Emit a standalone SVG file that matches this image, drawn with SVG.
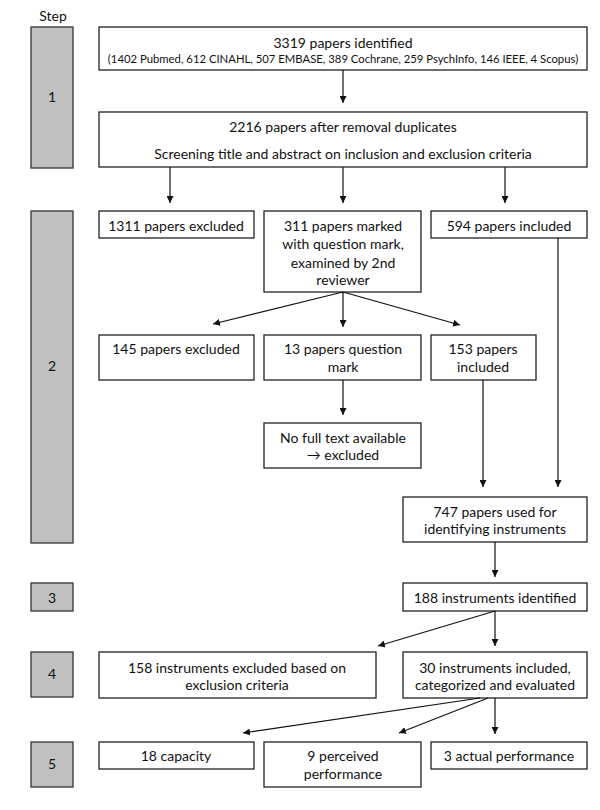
<svg xmlns="http://www.w3.org/2000/svg" width="600" height="810" viewBox="0 0 600 810">
<style>
.box{fill:#fff;stroke:#222;stroke-width:1.3}
.step{fill:#c0c0c0;stroke:#333;stroke-width:1.3}
text{font-family:Lato,"Liberation Sans",sans-serif;font-size:14px;fill:#111;text-anchor:middle;dominant-baseline:central}
.small{font-size:11.3px}
.con{stroke:#111;stroke-width:1.2;fill:none;marker-end:url(#ah)}
</style>
<defs>
<marker id="ah" viewBox="0 0 10 10" refX="10" refY="5" markerWidth="7" markerHeight="7" markerUnits="userSpaceOnUse" orient="auto"><path d="M0,0 L10,5 L0,10 z" fill="#111"/></marker>
</defs>
<rect width="600" height="810" fill="#fff"/>
<text x="53" y="15">Step</text>
<g id="step1"><rect class="step" x="31" y="27" width="42" height="141"/><text x="52" y="96">1</text></g>
<g id="step2"><rect class="step" x="31" y="211" width="42" height="332"/><text x="52" y="365">2</text></g>
<g id="step3"><rect class="step" x="31" y="583" width="42" height="28"/><text x="52" y="597">3</text></g>
<g id="step4"><rect class="step" x="31" y="652" width="42" height="45"/><text x="52" y="673">4</text></g>
<g id="step5"><rect class="step" x="31" y="742" width="42" height="45"/><text x="52" y="763">5</text></g>

<g id="identified"><rect class="box" x="99" y="27" width="488" height="43"/><text x="343" y="42">3319 papers identified</text><text class="small" x="343" y="58">(1402 Pubmed, 612 CINAHL, 507 EMBASE, 389 Cochrane, 259 PsychInfo, 146 IEEE, 4 Scopus)</text></g>
<g id="screening"><rect class="box" x="99" y="112" width="488" height="55"/><text x="343" y="126">2216 papers after removal duplicates</text><text x="343" y="153">Screening title and abstract on inclusion and exclusion criteria</text></g>
<g id="excl1311"><rect class="box" x="99" y="211" width="155" height="27"/><text x="176" y="225">1311 papers excluded</text></g>
<g id="marked311"><rect class="box" x="264" y="211" width="157" height="81"/><text x="343" y="225">311 papers marked</text><text x="343" y="243">with question mark,</text><text x="343" y="262">examined by 2nd</text><text x="343" y="279">reviewer</text></g>
<g id="incl594"><rect class="box" x="431" y="211" width="156" height="27"/><text x="509" y="225">594 papers included</text></g>
<g id="excl145"><rect class="box" x="99" y="335" width="155" height="45"/><text x="176" y="348">145 papers excluded</text></g>
<g id="q13"><rect class="box" x="264" y="335" width="157" height="45"/><text x="343" y="348">13 papers question</text><text x="343" y="366">mark</text></g>
<g id="incl153"><rect class="box" x="431" y="335" width="105" height="45"/><text x="483" y="348">153 papers</text><text x="483" y="366">included</text></g>
<g id="nofull"><rect class="box" x="264" y="423" width="157" height="45"/><text x="343" y="437">No full text available</text><text x="343" y="454">→ excluded</text></g>
<g id="used747"><rect class="box" x="403" y="497" width="184" height="45"/><text x="495" y="511">747 papers used for</text><text x="495" y="528">identifying instruments</text></g>
<g id="instr188"><rect class="box" x="403" y="583" width="184" height="28"/><text x="495" y="597">188 instruments identified</text></g>
<g id="excl158"><rect class="box" x="99" y="652" width="277" height="46"/><text x="237" y="667">158 instruments excluded based on</text><text x="237" y="684">exclusion criteria</text></g>
<g id="incl30"><rect class="box" x="403" y="652" width="184" height="46"/><text x="495" y="667">30 instruments included,</text><text x="495" y="684">categorized and evaluated</text></g>
<g id="cap18"><rect class="box" x="99" y="742" width="155" height="27"/><text x="176" y="755">18 capacity</text></g>
<g id="perc9"><rect class="box" x="264" y="742" width="157" height="45"/><text x="343" y="755">9 perceived</text><text x="343" y="773">performance</text></g>
<g id="act3"><rect class="box" x="431" y="742" width="156" height="27"/><text x="509" y="755">3 actual performance</text></g>

<g id="connectors">
<path class="con" d="M343,70 V103"/>
<path class="con" d="M170,167 V203"/>
<path class="con" d="M343,167 V203"/>
<path class="con" d="M505,167 V203"/>
<path class="con" d="M343,292 L213,324"/>
<path class="con" d="M343,292 V327"/>
<path class="con" d="M343,292 L460,325"/>
<path class="con" d="M343,380 V415"/>
<path class="con" d="M558,238 V487"/>
<path class="con" d="M483,380 V487"/>
<path class="con" d="M495,542 V577"/>
<path class="con" d="M495,611 L378,646"/>
<path class="con" d="M495,611 V646"/>
<path class="con" d="M480,698 L243,733"/>
<path class="con" d="M488,698 L399,733"/>
<path class="con" d="M495,698 V734"/>
</g>
</svg>
